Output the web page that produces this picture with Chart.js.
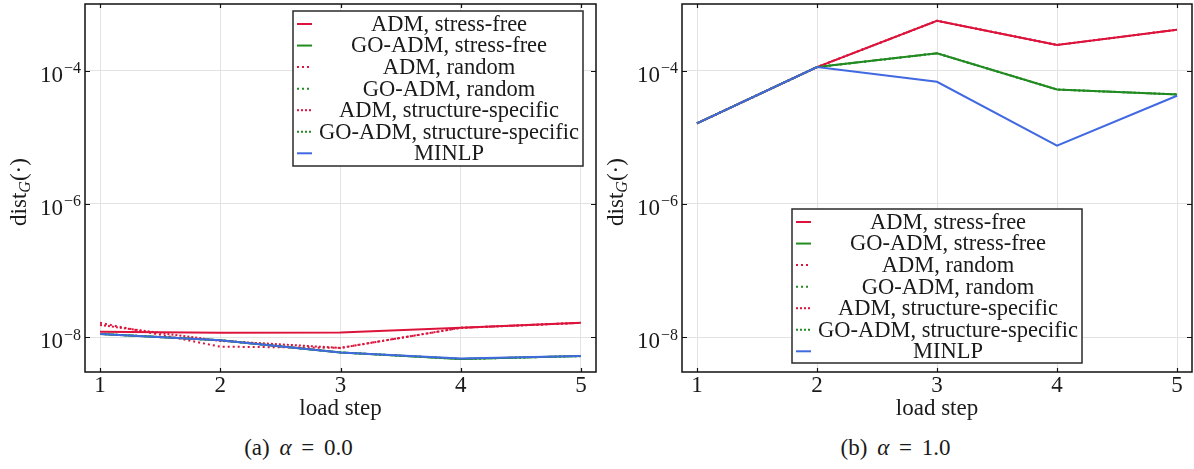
<!DOCTYPE html>
<html>
<head>
<meta charset="utf-8">
<script src="https://cdn.jsdelivr.net/npm/chart.js@4.4.0/dist/chart.umd.min.js"></script>
<style>
    body { margin: 0; background: #fff; width: 1194px; height: 469px; overflow: hidden; position: relative; font-family: 'Liberation Serif', serif; color: #1a1a1a; }
    .panel { position: absolute; top: 0; width: 597px; height: 469px; }
    .panel canvas { position: absolute; left: 0; top: 0; }
    .caption { position: absolute; top: 435px; left: 0; width: 597px; text-align: center; font-size: 23px; word-spacing: 4px; }
</style>
</head>
<body>
<div class="panel" style="left:0">
    <canvas id="chartA" width="597" height="425"></canvas>
    <div class="caption">(a) <i>α</i> = 0.0</div>
</div>
<div class="panel" style="left:597px">
    <canvas id="chartB" width="597" height="425"></canvas>
    <div class="caption">(b) <i>α</i> = 1.0</div>
</div>
<script>
const steps = [1, 2, 3, 4, 5];
const yTickValues = [1e-8, 1e-6, 1e-4];

const seriesLabels = [
    'ADM, stress-free',
    'GO-ADM, stress-free',
    'ADM, random',
    'GO-ADM, random',
    'ADM, structure-specific',
    'GO-ADM, structure-specific',
    'MINLP'
];
const seriesColors = ['#dc143c', '#228b22', '#dc143c', '#228b22', '#dc143c', '#228b22', '#4169e1'];
const seriesDash = [[], [], [2, 3], [2, 3], [2, 2], [2, 2], []];

// alpha = 0.0
const admStressFreeA = [1.21e-8, 1.16e-8, 1.17e-8, 1.38e-8, 1.64e-8];
const goAdmStressFreeA = [1.12e-8, 9.0e-9, 5.9e-9, 4.7e-9, 5.2e-9];
const admRandomA = [1.64e-8, 7.2e-9, 6.9e-9, 1.38e-8, 1.64e-8];
const goAdmRandomA = [1.12e-8, 9.0e-9, 5.9e-9, 4.7e-9, 5.2e-9];
const admStructureA = [1.52e-8, 8.8e-9, 6.9e-9, 1.38e-8, 1.64e-8];
const goAdmStructureA = [1.12e-8, 9.0e-9, 5.9e-9, 4.7e-9, 5.2e-9];
const minlpA = [1.12e-8, 9.0e-9, 5.9e-9, 4.8e-9, 5.2e-9];

// alpha = 1.0
const admStressFreeB = [1.62e-5, 1.13e-4, 5.6e-4, 2.43e-4, 4.1e-4];
const goAdmStressFreeB = [1.62e-5, 1.13e-4, 1.82e-4, 5.2e-5, 4.4e-5];
const admRandomB = [1.62e-5, 1.13e-4, 5.6e-4, 2.43e-4, 4.1e-4];
const goAdmRandomB = [1.62e-5, 1.13e-4, 1.82e-4, 5.2e-5, 4.4e-5];
const admStructureB = [1.62e-5, 1.13e-4, 5.6e-4, 2.43e-4, 4.1e-4];
const goAdmStructureB = [1.62e-5, 1.13e-4, 1.82e-4, 5.2e-5, 4.4e-5];
const minlpB = [1.62e-5, 1.13e-4, 6.8e-5, 7.5e-6, 4.2e-5];

const FONT = "'Liberation Serif', serif";
const INK = '#1a1a1a';

function buildDatasets(series) {
    return series.map((values, i) => ({
        label: seriesLabels[i],
        data: steps.map((s, j) => ({ x: s, y: values[j] })),
        borderColor: seriesColors[i],
        backgroundColor: seriesColors[i],
        borderDash: seriesDash[i],
        borderWidth: 2,
        pointRadius: 0,
        tension: 0,
        order: series.length - 1 - i
    }));
}

// spines, inner tick marks, y tick labels, y title and the boxed legend
const framePlugin = {
    id: 'frame',
    afterDatasetsDraw(chart, args, opts) {
        const { ctx, chartArea: a, scales: { x, y } } = chart;
        ctx.save();

        ctx.strokeStyle = '#111';
        ctx.lineWidth = 1.2;
        ctx.beginPath();
        x.ticks.forEach(t => {
            const px = Math.round(x.getPixelForValue(t.value)) + 0.5;
            ctx.moveTo(px, a.bottom); ctx.lineTo(px, a.bottom - 4);
            ctx.moveTo(px, a.top); ctx.lineTo(px, a.top + 4);
        });
        y.ticks.forEach(t => {
            const py = Math.round(y.getPixelForValue(t.value)) + 0.5;
            ctx.moveTo(a.left, py); ctx.lineTo(a.left + 5, py);
            ctx.moveTo(a.right, py); ctx.lineTo(a.right - 5, py);
        });
        ctx.stroke();

        ctx.lineWidth = 1.5;
        ctx.strokeRect(a.left, a.top, a.right - a.left, a.bottom - a.top);

        // y tick labels as 10 with a superscript exponent
        ctx.fillStyle = INK;
        ctx.textBaseline = 'alphabetic';
        y.ticks.forEach(t => {
            const py = y.getPixelForValue(t.value);
            const exp = '\u2212' + Math.abs(Math.round(Math.log10(t.value)));
            const right = a.left - 4;
            ctx.font = '16px ' + FONT;
            const ew = ctx.measureText(exp).width;
            ctx.textAlign = 'right';
            ctx.fillText(exp, right, py + 2.5);
            ctx.font = '23px ' + FONT;
            ctx.fillText('10', right - ew - 1, py + 11);
        });

        // y axis title: dist_G(·)
        ctx.translate(opts.titleX, (a.top + a.bottom) / 2 + 4);
        ctx.rotate(-Math.PI / 2);
        const parts = [
            { t: 'dist', f: '23px ' + FONT, dy: 0 },
            { t: 'G', f: 'italic 16px ' + FONT, dy: 4 },
            { t: '(\u00b7)', f: '23px ' + FONT, dy: 0 }
        ];
        let total = 0;
        parts.forEach(p => { ctx.font = p.f; p.w = ctx.measureText(p.t).width; total += p.w; });
        let cx = -total / 2;
        ctx.textAlign = 'left';
        parts.forEach(p => { ctx.font = p.f; ctx.fillText(p.t, cx, p.dy); cx += p.w; });
        ctx.setTransform(1, 0, 0, 1, 0, 0);

        // legend
        const b = opts.box;
        ctx.fillStyle = '#fff';
        ctx.fillRect(b.left, b.top, b.width, b.height);
        ctx.strokeStyle = '#2a2a2a';
        ctx.lineWidth = 1.5;
        ctx.strokeRect(b.left, b.top, b.width, b.height);
        ctx.font = '22.5px ' + FONT;
        ctx.textAlign = 'center';
        ctx.textBaseline = 'middle';
        chart.data.datasets.forEach((ds, i) => {
            const ry = b.top + 13 + i * 21.55;
            ctx.strokeStyle = ds.borderColor;
            ctx.lineWidth = 2;
            ctx.setLineDash(ds.borderDash);
            ctx.beginPath();
            ctx.moveTo(b.left + 4, ry);
            ctx.lineTo(b.left + 19, ry);
            ctx.stroke();
            ctx.setLineDash([]);
            ctx.fillStyle = INK;
            ctx.fillText(ds.label, b.left + 156, ry + 1);
        });

        ctx.restore();
    }
};

function makeChart(id, series, padRight, box) {
    return new Chart(document.getElementById(id).getContext('2d'), {
        type: 'line',
        data: { datasets: buildDatasets(series) },
        options: {
            responsive: false,
            animation: false,
            layout: { padding: { top: 4, right: padRight, bottom: 0, left: 0 } },
            plugins: {
                legend: { display: false },
                tooltip: { enabled: false },
                frame: { box, titleX: 26 }
            },
            scales: {
                x: {
                    type: 'linear',
                    min: 0.875,
                    max: 5.125,
                    afterBuildTicks: s => { s.ticks = steps.map(v => ({ value: v })); },
                    afterFit: s => { s.height = 53; },
                    grid: { color: '#e3e3e3', lineWidth: 1, drawTicks: false },
                    border: { display: false },
                    ticks: { color: INK, font: { family: FONT, size: 23 }, padding: 0, maxRotation: 0 },
                    title: { display: true, text: 'load step', color: INK, font: { family: FONT, size: 23 }, padding: { top: 0, bottom: 2 } }
                },
                y: {
                    type: 'logarithmic',
                    min: 3e-9,
                    max: 1e-3,
                    afterBuildTicks: s => { s.ticks = yTickValues.map(v => ({ value: v })); },
                    afterFit: s => { s.width = 85; },
                    grid: { color: '#e3e3e3', lineWidth: 1, drawTicks: false },
                    border: { display: false },
                    ticks: { display: false }
                }
            }
        },
        plugins: [framePlugin]
    });
}

makeChart('chartA',
    [admStressFreeA, goAdmStressFreeA, admRandomA, goAdmRandomA, admStructureA, goAdmStructureA, minlpA],
    1, { left: 293, top: 11, width: 290, height: 155 });

makeChart('chartB',
    [admStressFreeB, goAdmStressFreeB, admRandomB, goAdmRandomB, admStructureB, goAdmStructureB, minlpB],
    2, { left: 195, top: 209, width: 290, height: 154 });
</script>
</body>
</html>
